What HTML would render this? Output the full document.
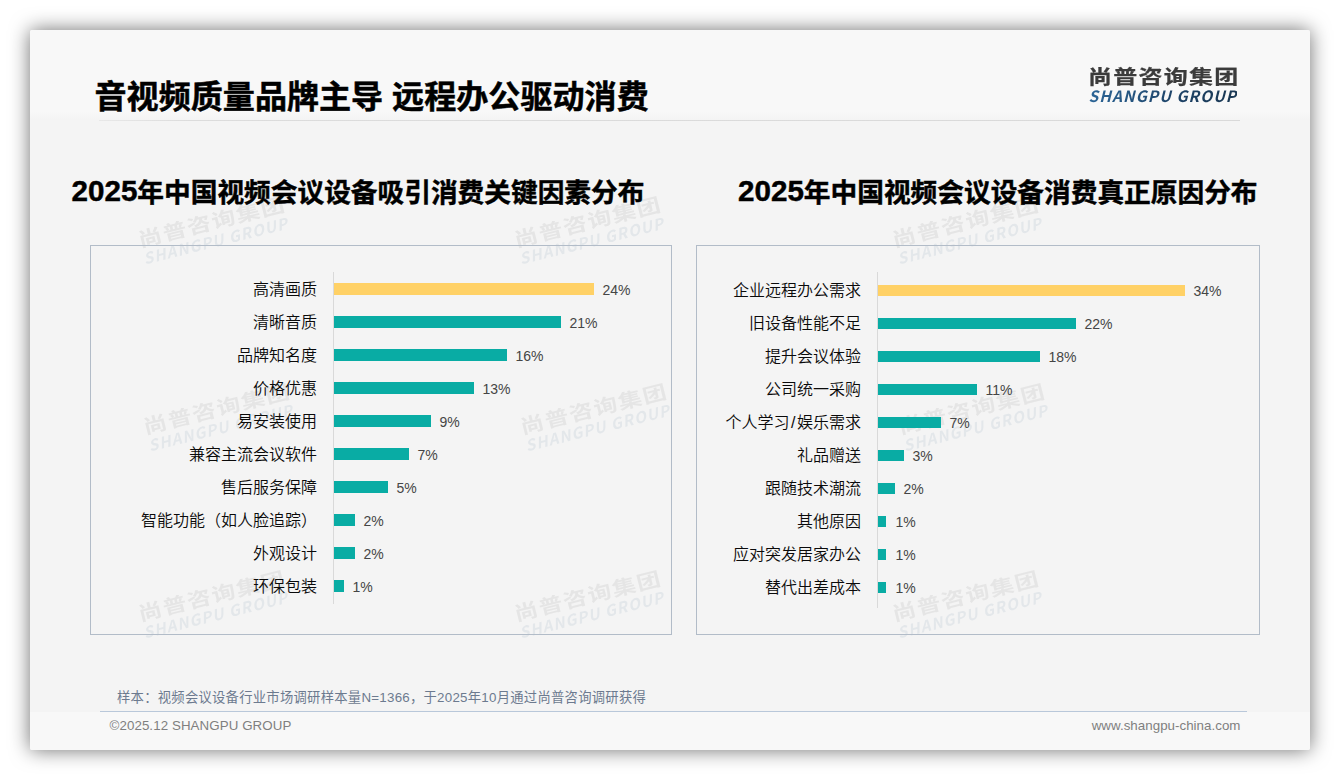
<!DOCTYPE html>
<html lang="zh-CN">
<head>
<meta charset="utf-8">
<title>音视频质量品牌主导 远程办公驱动消费</title>
<style>
*{margin:0;padding:0;box-sizing:border-box}
html,body{width:1340px;height:780px;background:#fff;overflow:hidden}
body{position:relative;font-family:"Liberation Sans","Noto Sans CJK SC",sans-serif;color:#000}
.abs{position:absolute;white-space:nowrap}
#slide{position:absolute;left:30px;top:30px;width:1280px;height:720px;background:#f4f4f4;
  box-shadow:0 0 20px rgba(0,0,0,.57);border-radius:2px;overflow:hidden}
#hdr{position:absolute;left:0;top:0;width:1280px;height:90px;background:linear-gradient(#f8f8f8 0,#f8f8f8 82px,#f4f4f4 90px)}
#ftr{position:absolute;left:0;top:682px;width:1280px;height:38px;background:#f8f8f8}
#hline{position:absolute;left:69px;top:90px;width:1141px;height:1px;background:linear-gradient(90deg,#e8e8e8,#dcdcdc 8%,#d9d9d9)}
#fline{position:absolute;left:70px;top:681px;width:1147px;height:1px;background:#b9c8da}
#title{left:64.5px;top:43px;font-size:32.1px;-webkit-text-stroke:.5px #000;line-height:48px;font-weight:700;color:#000}
.ctitle{font-size:26.7px;line-height:40px;font-weight:700;color:#000;top:141.5px;-webkit-text-stroke:.45px #000}
.ctitle span{font-size:29.6px;line-height:40px;position:relative;top:-.8px}
#logo1{left:1057.6px;top:32.8px;font-size:19.6px;line-height:28px;font-weight:700;color:#3b3b3b;letter-spacing:1px;transform:scaleX(1.225);transform-origin:0 0;-webkit-text-stroke:.25px #3b3b3b}
#logo2{left:1058.5px;top:55.3px;font-family:"Noto Sans CJK SC","Liberation Sans",sans-serif;font-size:15.5px;line-height:20px;font-weight:700;font-style:italic;color:#1f4e79;letter-spacing:1.05px}
@supports ((-webkit-background-clip:text) or (background-clip:text)){#logo2{background:linear-gradient(100deg,#2c6698 0%,#1d4266 60%,#1a3853 100%);-webkit-background-clip:text;background-clip:text;-webkit-text-fill-color:transparent}}
.box{position:absolute;border:1px solid #b2bcc8;background:transparent}
.axis{position:absolute;width:1px;background:#d9d9d9}
.bar{position:absolute;height:12px;background:#09aca4}
.bar.y{background:#ffd166}
.lab{position:absolute;white-space:nowrap;font-size:16px;line-height:24px;color:#0a0a0a;text-align:right;margin-top:1px;font-weight:350}
.val{position:absolute;white-space:nowrap;font-size:14px;line-height:20px;color:#454545;margin-top:.7px}
#note{left:87px;top:657.5px;font-size:13.33px;line-height:20px;color:#6c7a8f;letter-spacing:.25px}
#copy{left:79.5px;top:685.5px;font-size:13.33px;line-height:20px;color:#7f7f7f;letter-spacing:.08px}
#url{right:69.5px;top:686px;font-size:13.33px;line-height:20px;color:#7f7f7f;letter-spacing:.03px}
.wm{position:absolute;width:148px;height:34.5px;opacity:.075;transform:rotate(-14deg);transform-origin:50% 50%}
.wm .c{position:absolute;white-space:nowrap;left:-1.4px;top:-4.2px;font-size:19.6px;line-height:28px;font-weight:700;color:#3b3b3b;letter-spacing:1px;transform:scaleX(1.225);transform-origin:0 0}
.wm .e{position:absolute;white-space:nowrap;left:-.5px;top:18.3px;font-family:"Noto Sans CJK SC","Liberation Sans",sans-serif;font-size:15.5px;line-height:20px;font-weight:700;font-style:italic;color:#1f4e79;letter-spacing:1.05px}
</style>
</head>
<body>
<div id="slide">
  <div id="hdr"></div>
  <div id="ftr"></div>
  <div id="hline"></div>
  <div id="fline"></div>
  <div class="wm" style="left:108.5px;top:181.75px"><div class="c">尚普咨询集团</div><div class="e">SHANGPU GROUP</div></div>
  <div class="wm" style="left:485px;top:181.75px"><div class="c">尚普咨询集团</div><div class="e">SHANGPU GROUP</div></div>
  <div class="wm" style="left:863px;top:181.75px"><div class="c">尚普咨询集团</div><div class="e">SHANGPU GROUP</div></div>
  <div class="wm" style="left:114px;top:369.25px"><div class="c">尚普咨询集团</div><div class="e">SHANGPU GROUP</div></div>
  <div class="wm" style="left:490.5px;top:369.25px"><div class="c">尚普咨询集团</div><div class="e">SHANGPU GROUP</div></div>
  <div class="wm" style="left:868.5px;top:369.25px"><div class="c">尚普咨询集团</div><div class="e">SHANGPU GROUP</div></div>
  <div class="wm" style="left:108.5px;top:556.25px"><div class="c">尚普咨询集团</div><div class="e">SHANGPU GROUP</div></div>
  <div class="wm" style="left:485px;top:556.25px"><div class="c">尚普咨询集团</div><div class="e">SHANGPU GROUP</div></div>
  <div class="wm" style="left:863px;top:556.25px"><div class="c">尚普咨询集团</div><div class="e">SHANGPU GROUP</div></div>
  <div id="title" class="abs">音视频质量品牌主导 远程办公驱动消费</div>
  <div id="logo1" class="abs">尚普咨询集团</div>
  <div id="logo2" class="abs">SHANGPU GROUP</div>
  <div class="abs ctitle" style="left:41.5px"><span>2025</span>年中国视频会议设备吸引消费关键因素分布</div>
  <div class="abs ctitle" style="left:708px"><span>2025</span>年中国视频会议设备消费真正原因分布</div>
  <div class="box" style="left:60px;top:215px;width:582px;height:390px"></div>
  <div class="box" style="left:666px;top:215px;width:564px;height:390px"></div>
  <!--CHARTS-->
  <div class="axis" style="left:303px;top:242px;height:332px"></div>
  <div class="lab" style="right:993px;top:247px">高清画质</div>
  <div class="bar y" style="left:304px;top:253px;width:260px"></div>
  <div class="val" style="left:572.5px;top:249px">24%</div>
  <div class="lab" style="right:993px;top:280px">清晰音质</div>
  <div class="bar" style="left:304px;top:286px;width:227px"></div>
  <div class="val" style="left:539.5px;top:282px">21%</div>
  <div class="lab" style="right:993px;top:313px">品牌知名度</div>
  <div class="bar" style="left:304px;top:319px;width:173px"></div>
  <div class="val" style="left:485.5px;top:315px">16%</div>
  <div class="lab" style="right:993px;top:346px">价格优惠</div>
  <div class="bar" style="left:304px;top:352px;width:140px"></div>
  <div class="val" style="left:452.5px;top:348px">13%</div>
  <div class="lab" style="right:993px;top:379px">易安装使用</div>
  <div class="bar" style="left:304px;top:385px;width:97px"></div>
  <div class="val" style="left:409.5px;top:381px">9%</div>
  <div class="lab" style="right:993px;top:412px">兼容主流会议软件</div>
  <div class="bar" style="left:304px;top:418px;width:75px"></div>
  <div class="val" style="left:387.5px;top:414px">7%</div>
  <div class="lab" style="right:993px;top:445px">售后服务保障</div>
  <div class="bar" style="left:304px;top:451px;width:54px"></div>
  <div class="val" style="left:366.5px;top:447px">5%</div>
  <div class="lab" style="right:993px;top:478px">智能功能（如人脸追踪）</div>
  <div class="bar" style="left:304px;top:484px;width:21px"></div>
  <div class="val" style="left:333.5px;top:480px">2%</div>
  <div class="lab" style="right:993px;top:511px">外观设计</div>
  <div class="bar" style="left:304px;top:517px;width:21px"></div>
  <div class="val" style="left:333.5px;top:513px">2%</div>
  <div class="lab" style="right:993px;top:544px">环保包装</div>
  <div class="bar" style="left:304px;top:550px;width:10px"></div>
  <div class="val" style="left:322.5px;top:546px">1%</div>
  <div class="axis" style="left:847px;top:242px;height:336px"></div>
  <div class="lab" style="right:449px;top:248px">企业远程办公需求</div>
  <div class="bar y" style="left:848px;top:255px;width:307px;height:11px"></div>
  <div class="val" style="left:1163.5px;top:250px">34%</div>
  <div class="lab" style="right:449px;top:281px">旧设备性能不足</div>
  <div class="bar" style="left:848px;top:288px;width:198px;height:11px"></div>
  <div class="val" style="left:1054.5px;top:283px">22%</div>
  <div class="lab" style="right:449px;top:314px">提升会议体验</div>
  <div class="bar" style="left:848px;top:321px;width:162px;height:11px"></div>
  <div class="val" style="left:1018.5px;top:316px">18%</div>
  <div class="lab" style="right:449px;top:347px">公司统一采购</div>
  <div class="bar" style="left:848px;top:354px;width:99px;height:11px"></div>
  <div class="val" style="left:955.5px;top:349px">11%</div>
  <div class="lab" style="right:449px;top:380px">个人学习<span style="padding:0 1.5px">/</span>娱乐需求</div>
  <div class="bar" style="left:848px;top:387px;width:63px;height:11px"></div>
  <div class="val" style="left:919.5px;top:382px">7%</div>
  <div class="lab" style="right:449px;top:413px">礼品赠送</div>
  <div class="bar" style="left:848px;top:420px;width:26px;height:11px"></div>
  <div class="val" style="left:882.5px;top:415px">3%</div>
  <div class="lab" style="right:449px;top:446px">跟随技术潮流</div>
  <div class="bar" style="left:848px;top:453px;width:17px;height:11px"></div>
  <div class="val" style="left:873.5px;top:448px">2%</div>
  <div class="lab" style="right:449px;top:479px">其他原因</div>
  <div class="bar" style="left:848px;top:486px;width:8px;height:11px"></div>
  <div class="val" style="left:865.5px;top:481px">1%</div>
  <div class="lab" style="right:449px;top:512px">应对突发居家办公</div>
  <div class="bar" style="left:848px;top:519px;width:8px;height:11px"></div>
  <div class="val" style="left:865.5px;top:514px">1%</div>
  <div class="lab" style="right:449px;top:545px">替代出差成本</div>
  <div class="bar" style="left:848px;top:552px;width:8px;height:11px"></div>
  <div class="val" style="left:865.5px;top:547px">1%</div>
  <!--/CHARTS-->
  <div id="note" class="abs">样本：视频会议设备行业市场调研样本量N=1366，于2025年10月通过尚普咨询调研获得</div>
  <div id="copy" class="abs">©2025.12 SHANGPU GROUP</div>
  <div id="url" class="abs">www.shangpu-china.com</div>
</div>
</body>
</html>
